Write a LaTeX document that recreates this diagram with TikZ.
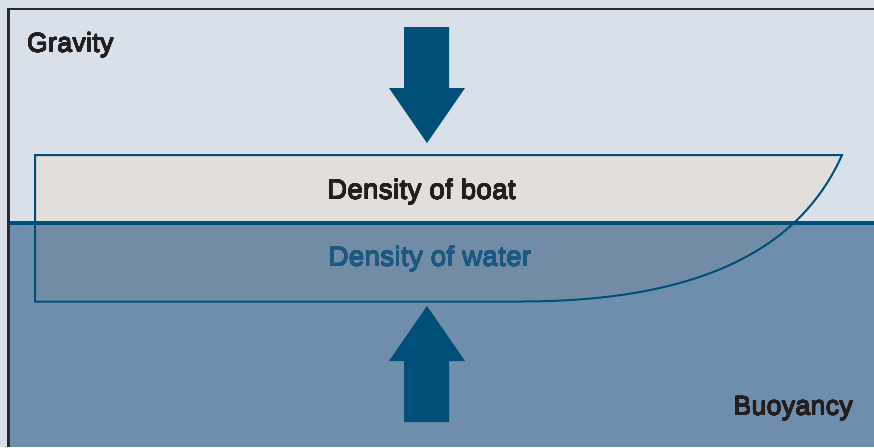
\documentclass[tikz,border=0pt]{standalone}
\usepackage{fontspec}
\usepackage{contour}
\setmainfont{Liberation Sans}[LetterSpace=1.5]
\contourlength{0.3pt}
\contournumber{16}
\definecolor{skyc}{HTML}{D9E0EA}
\definecolor{waterc}{HTML}{6F8DAD}
\definecolor{hullc}{HTML}{E2DEDC}
\definecolor{hullwet}{HTML}{738CA6}
\definecolor{navy}{HTML}{004F79}
\definecolor{inkc}{HTML}{231F20}
\definecolor{watertext}{HTML}{1C5882}
\definecolor{framec}{HTML}{2B2B2B}
% medium-weight text: the glyphs thickened by a thin contour of their own colour
\newcommand{\medtext}[2]{\contour{#1}{\textcolor{#1}{#2}}}
\tikzset{
  label/.style={font=\fontsize{27.5}{32}\selectfont, inner sep=0pt},
  corner/.style={label, font=\fontsize{26.5}{31}\selectfont},
  forcearrow/.style={fill=navy, draw=none},
}
\begin{document}
\begin{tikzpicture}[x=1pt, y=-1pt]
  \useasboundingbox (0,0) rectangle (874,447);
  % air and water
  \fill[skyc] (0,0) rectangle (874,447);
  \fill[waterc] (8.5,223) rectangle (874,447);
  % hull outline used for fill and stroke
  \def\hullpath{(35,155) -- (842,155) .. controls (792,268) and (665,301.5) .. (520,301.5) -- (35,301.5) -- cycle}
  \begin{scope}
    \clip (0,0) rectangle (874,223);
    \fill[hullc] \hullpath;
  \end{scope}
  \begin{scope}
    \clip (0,223) rectangle (874,447);
    \fill[hullwet] \hullpath;
  \end{scope}
  % waterline
  \draw[navy, line width=4.5pt] (8.5,223) -- (874,223);
  \draw[navy, line width=2pt] \hullpath;
  % frame
  \draw[framec, line width=2.5pt] (8.5,447) -- (8.5,9) -- (874,9);
  % gravity arrow
  \fill[forcearrow] (404,27) -- (449,27) -- (449,88) -- (465,88) -- (427,143)
    -- (389,88) -- (404,88) -- cycle;
  % buoyancy arrow
  \fill[forcearrow] (404,422) -- (449,422) -- (449,361) -- (465,361) -- (427,306)
    -- (389,361) -- (404,361) -- cycle;
  % labels
  \node[corner, anchor=base west] (gravity) at (27,52) {\medtext{inkc}{Gravity}};
  \node[corner, anchor=base east] (buoyancy) at (853,415) {\medtext{inkc}{Buoyancy}};
  \node[label, anchor=base] (boat) at (421.5,199) {\medtext{inkc}{Density of boat}};
  \node[label, anchor=base] (water) at (430,266) {\medtext{watertext}{Density of water}};
\end{tikzpicture}
\end{document}
